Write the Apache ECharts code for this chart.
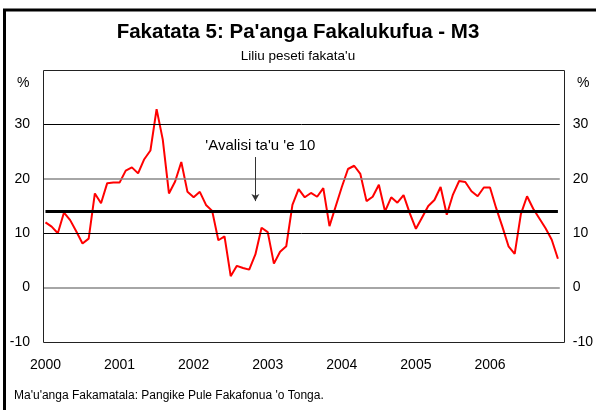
<!DOCTYPE html>
<html>
<head>
<meta charset="utf-8">
<script src="https://cdn.jsdelivr.net/npm/echarts@6/dist/echarts.min.js"></script>
<style>
  html, body { margin: 0; padding: 0; background: #fff; }
  #chart { width: 596px; height: 410px; }
</style>
</head>
<body>
<div id="chart"></div>
<script>
// M3 liliu peseti fakata'u, fakamāhina Sān 2000 - Tīs 2006
const years = ['2000', '2001', '2002', '2003', '2004', '2005', '2006']
const m3Growth = [
  12.0, 11.2, 10.0, 13.8, 12.4, 10.3, 8.1, 9.0, 17.3, 15.5, 19.2, 19.3,
  19.3, 21.5, 22.1, 21.0, 23.6, 25.2, 32.8, 27.2, 17.3, 19.5, 23.1, 17.6,
  16.6, 17.6, 15.2, 14.1, 8.7, 9.4, 2.1, 4.0, 3.6, 3.3, 6.1, 11.0,
  10.2, 4.4, 6.6, 7.6, 15.2, 18.1, 16.6, 17.4, 16.7, 18.3, 11.3, 14.9,
  18.5, 21.8, 22.4, 20.9, 15.9, 16.7, 18.9, 14.0, 16.6, 15.6, 17.0, 13.7,
  10.8, 12.9, 15.0, 16.1, 18.5, 13.4, 17.1, 19.6, 19.4, 17.7, 16.8, 18.4,
  18.4, 14.6, 11.2, 7.6, 6.2, 13.5, 16.8, 14.5, 12.7, 10.9, 8.8, 5.3
]
const tenYearAvg = 14
const gridValues = [0, 10, 20, 30]
const gridColors = ['#888', '#000', '#888', '#000']

const FONT = 'Liberation Sans, Arial, sans-serif'
const chart = echarts.init(document.getElementById('chart'))

const G = { left: 43, top: 70, width: 521, height: 272 }

chart.setOption({
  animation: false,
  title: [
    {
      text: "Fakatata 5: Pa'anga Fakalukufua - M3",
      left: 'center', top: 17,
      textStyle: { fontFamily: FONT, fontSize: 20.5, fontWeight: 'bold', color: '#000' }
    },
    {
      text: "Liliu peseti fakata'u",
      left: 'center', top: 44,
      textStyle: { fontFamily: FONT, fontSize: 13.5, fontWeight: 'normal', color: '#000' }
    }
  ],
  grid: G,
  xAxis: {
    type: 'value',
    min: -0.4,
    max: 83.3,
    axisLine: { show: false },
    axisTick: { show: false },
    splitLine: { show: false },
    axisLabel: {
      customValues: years.map((y, i) => i * 12),
      formatter: v => years[Math.round(v / 12)],
      margin: 16,
      fontFamily: FONT, fontSize: 14, color: '#000'
    }
  },
  yAxis: [
    {
      type: 'value', min: -10, max: 40, interval: 10,
      axisLine: { show: false }, axisTick: { show: false }, splitLine: { show: false },
      axisLabel: { formatter: v => (v === 40 ? '' : v), margin: 13, fontFamily: FONT, fontSize: 14, color: '#000' }
    },
    {
      type: 'value', min: -10, max: 40, interval: 10, position: 'right',
      axisLine: { show: false }, axisTick: { show: false }, splitLine: { show: false },
      axisLabel: { formatter: v => (v === 40 ? '' : v), margin: 13, fontFamily: FONT, fontSize: 14, color: '#000' }
    }
  ],
  series: [
    {
      // horizontal gridlines
      type: 'line',
      data: [],
      z: 1,
      markLine: {
        silent: true,
        symbol: 'none',
        animation: false,
        label: { show: false },
        data: gridValues.map((v, i) => ({
          yAxis: v,
          lineStyle: { color: gridColors[i], width: gridColors[i] === '#888' ? 1.5 : 1, type: 'solid' }
        }))
      }
    },
    {
      name: 'M3',
      type: 'line',
      data: m3Growth.map((v, i) => [i, v]),
      symbol: 'none',
      z: 3,
      lineStyle: { color: '#ff0000', width: 2 },
      markLine: {
        silent: true,
        animation: false,
        data: [
          [
            { coord: [0, tenYearAvg], symbol: 'none', lineStyle: { color: '#000', width: 3, type: 'solid' }, label: { show: false } },
            { coord: [83, tenYearAvg], symbol: 'none' }
          ],
          [
            { coord: [34, 24], symbol: 'none', lineStyle: { color: '#333', width: 1, type: 'solid' }, label: { show: false } },
            { coord: [34, 15.9], symbol: 'arrow', symbolSize: [6, 7] }
          ]
        ]
      },
      markPoint: {
        silent: true,
        animation: false,
        symbol: 'circle',
        symbolSize: 0,
        data: [{
          coord: [34.8, 26],
          label: {
            show: true, position: 'inside',
            formatter: "'Avalisi ta'u 'e 10",
            fontFamily: FONT, fontSize: 15, color: '#000'
          }
        }]
      }
    }
  ],
  graphic: [
    {
      type: 'rect', silent: true,
      shape: { x: 4.5, y: 10, width: 700, height: 500 },
      style: { fill: 'none', stroke: '#000', lineWidth: 3 }
    },
    {
      type: 'rect', silent: true, z: 10,
      shape: { x: G.left + 0.5, y: G.top + 0.5, width: G.width, height: G.height },
      style: { fill: 'none', stroke: '#222', lineWidth: 1 }
    },
    {
      type: 'text', left: 17, top: 76,
      style: { text: '%', fontFamily: FONT, fontSize: 14, fill: '#000' }
    },
    {
      type: 'text', left: 577, top: 76,
      style: { text: '%', fontFamily: FONT, fontSize: 14, fill: '#000' }
    },
    {
      type: 'text', left: 14, top: 390,
      style: { text: "Ma'u'anga Fakamatala: Pangike Pule Fakafonua 'o Tonga.", fontFamily: FONT, fontSize: 12, fill: '#000' }
    }
  ]
})
</script>
</body>
</html>
